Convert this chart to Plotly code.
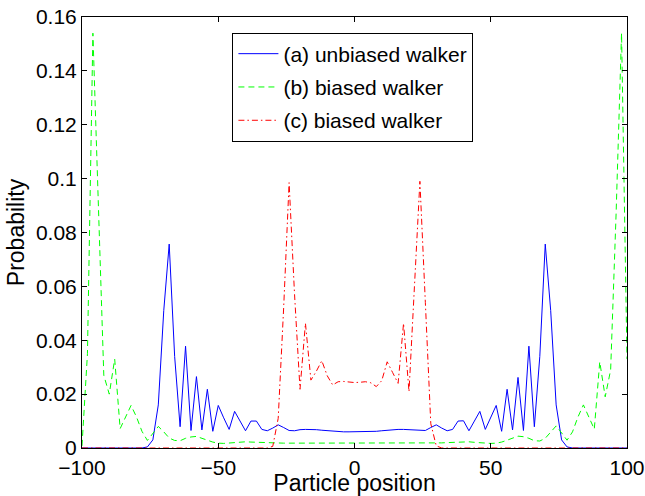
import plotly.graph_objects as go

positions = list(range(-100, 101, 2))

unbiased_a = [
    0, 0, 0, 0, 0, 0, 0, 0, 0, 0, 0, 0,
    0.0004, 0.003, 0.016, 0.051, 0.0757, 0.034, 0.0079, 0.0378, 0.0065, 0.0265,
    0.0067, 0.0218, 0.0062, 0.0158, 0.0112, 0.0069, 0.0136, 0.0100, 0.0064, 0.0100,
    0.0100, 0.0069, 0.0064, 0.0074, 0.0086, 0.0076, 0.0065, 0.0064, 0.0068, 0.0069,
    0.0069, 0.0068, 0.0066, 0.0064, 0.0062, 0.0061, 0.0060, 0.0060,
    0.0060,
    0.0060, 0.0060, 0.0061, 0.0062, 0.0064, 0.0066, 0.0068, 0.0069, 0.0069,
    0.0068, 0.0065, 0.0064, 0.0065, 0.0076, 0.0086, 0.0074, 0.0064, 0.0069, 0.0100,
    0.0101, 0.0064, 0.0100, 0.0136, 0.0069, 0.0112, 0.0158, 0.0062, 0.0218, 0.0067,
    0.0262, 0.0065, 0.0378, 0.0079, 0.034, 0.0757, 0.051, 0.016, 0.003, 0.0004,
    0, 0, 0, 0, 0, 0, 0, 0, 0, 0, 0, 0,
]

biased_b = [
    0.0008, 0.035, 0.154, 0.086, 0.027, 0.020, 0.033, 0.0072, 0.0115, 0.0158,
    0.0115, 0.0062, 0.0028, 0.0055, 0.0080, 0.0060, 0.0037, 0.0028, 0.0027, 0.0036,
    0.0041, 0.0043, 0.0037, 0.0029, 0.0022, 0.0018, 0.0017, 0.0019, 0.0021, 0.0023,
    0.0023, 0.0022, 0.0021, 0.0020, 0.0019, 0.0018, 0.0018, 0.0018, 0.0018, 0.0018,
    0.0018, 0.0018, 0.0018, 0.0018, 0.0018, 0.0018, 0.0018, 0.0018, 0.0017, 0.0017,
    0.0017,
    0.0017, 0.0017, 0.0018, 0.0018, 0.0018, 0.0018, 0.0018, 0.0018, 0.0018, 0.0018,
    0.0018, 0.0018, 0.0018, 0.0018, 0.0018, 0.0019, 0.0020, 0.0021, 0.0022, 0.0023,
    0.0023, 0.0021, 0.0019, 0.0017, 0.0017, 0.0018, 0.0022, 0.0029, 0.0037, 0.0044,
    0.0042, 0.0036, 0.0027, 0.0026, 0.0036, 0.0060, 0.0082, 0.0056, 0.0029, 0.0060,
    0.0115, 0.0160, 0.0115, 0.0070, 0.032, 0.019, 0.029, 0.087, 0.154, 0.033,
    0.0008,
]

biased_c = (
    [0] * 35
    + [0.0006, 0.011, 0.052, 0.0985, 0.057, 0.0218, 0.0463, 0.0252, 0.0285, 0.0324,
       0.0268, 0.0234, 0.0246, 0.0247, 0.0245, 0.0243, 0.0244, 0.0246, 0.0242, 0.0228,
       0.0250, 0.0320, 0.0280, 0.0240, 0.0463, 0.0209, 0.060, 0.099, 0.054, 0.009,
       0.0008]
    + [0] * 35
)

x_ticks = [-100, -50, 0, 50, 100]
x_ticktext = ["\u2212100", "\u221250", "0", "50", "100"]
y_ticks = [0, 0.02, 0.04, 0.06, 0.08, 0.1, 0.12, 0.14, 0.16]
y_ticktext = ["0", "0.02", "0.04", "0.06", "0.08", "0.1", "0.12", "0.14", "0.16"]

FONT = "Liberation Sans, Arial, Helvetica, sans-serif"

fig = go.Figure()
fig.add_trace(go.Scatter(x=positions, y=unbiased_a, mode="lines",
                         name="(a) unbiased walker", legendgroup="a",
                         line=dict(color="#0000FF", width=1)))
fig.add_trace(go.Scatter(x=positions, y=biased_b, mode="lines",
                         name="(b) biased walker", legendgroup="b",
                         line=dict(color="#00FF00", width=1, dash="6px,4px")))
fig.add_trace(go.Scatter(x=positions, y=biased_c, mode="lines",
                         name="(c) biased walker", legendgroup="c",
                         line=dict(color="#FF0000", width=1, dash="6px,3px,1.5px,3px")))

axis_common = dict(showline=True, linecolor="black", linewidth=1, mirror="ticks",
                   ticks="inside", ticklen=5, tickcolor="black", tickwidth=1,
                   showgrid=False, zeroline=False, automargin=False,
                   ticklabeloverflow="allow",
                   tickfont=dict(family=FONT, size=21, color="black"))

fig.update_layout(
    width=645, height=496,
    margin=dict(l=82, r=18, t=17, b=48, autoexpand=False),
    paper_bgcolor="white", plot_bgcolor="white",
    font=dict(family=FONT, size=21, color="black"),
    xaxis=dict(range=[-100, 100], tickvals=x_ticks, ticktext=x_ticktext,
               ticklabelstandoff=1,
               title=dict(text="Particle position", font=dict(family=FONT, size=23), standoff=4),
               **axis_common),
    yaxis=dict(range=[0, 0.16], tickvals=y_ticks, ticktext=y_ticktext,
               title=dict(text="Probability", font=dict(family=FONT, size=23), standoff=4),
               **axis_common),
    legend=dict(x=0.276, y=0.964, xanchor="left", yanchor="top",
                bordercolor="black", borderwidth=1, bgcolor="white",
                font=dict(family=FONT, size=21, color="black"),
                traceorder="grouped", tracegroupgap=3, itemwidth=40),
    showlegend=True,
)

# remove the browser's default 8px body margin so the figure fills the window
fig.write_html("out.html", config={"displayModeBar": False},
               post_script="document.body.style.margin='0';document.documentElement.style.overflow='hidden';")
